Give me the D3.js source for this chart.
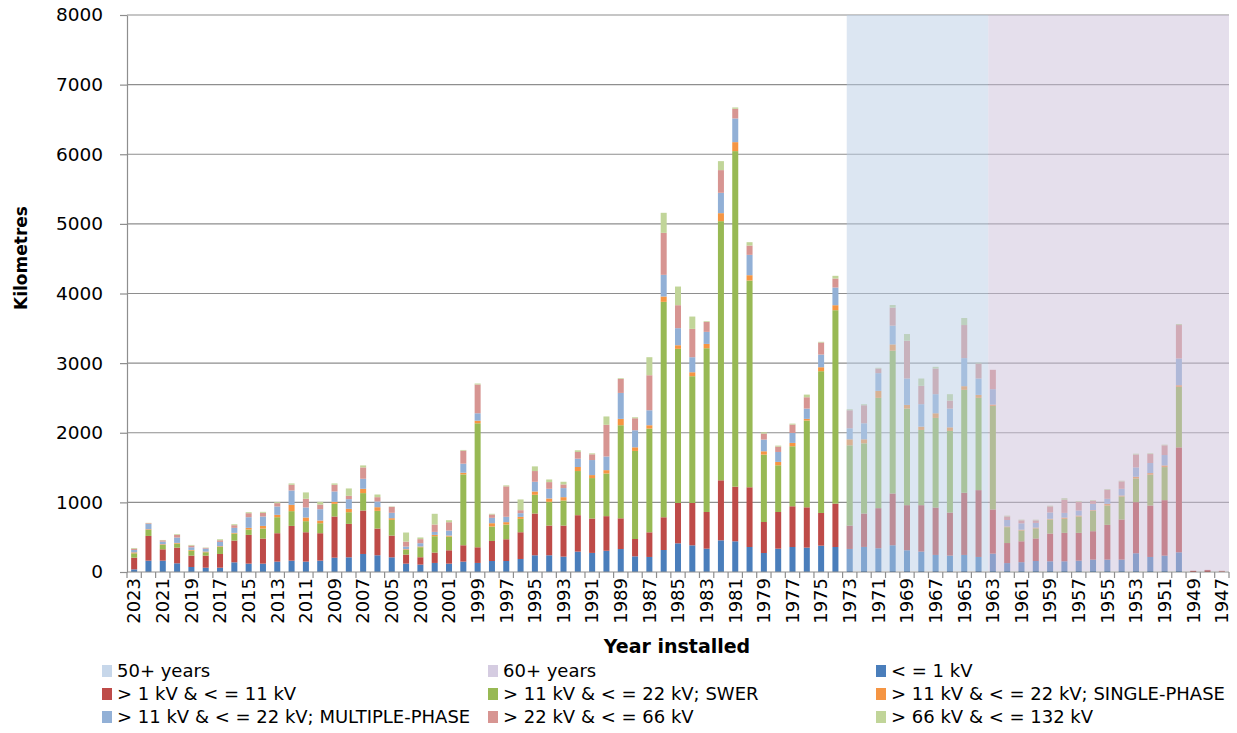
<!DOCTYPE html>
<html>
<head>
<meta charset="utf-8">
<script src="https://cdn.jsdelivr.net/npm/d3@7"></script>
<style>
	body { margin: 0; background: #fff; }
	svg { display: block; }
	text { font-family: "DejaVu Sans", Verdana, sans-serif; fill: #000; }
</style>
</head>
<body>
<div id="chart"></div>
<script>
// years run newest -> oldest, like the source chart
const years = d3.range(2023, 1946, -1);

// kilometres per year, one array per voltage class (same order as years)
const lv1 = [38,163,163,125,72,62,62,139,120,120,149,163,149,163,206,211,259,240,211,120,106,130,120,149,130,158,158,187,240,240,221,293,274,305,330,225,216,316,412,383,335,455,441,359,273,335,359,350,378,359,331,360,341,384,312,293,245,235,245,216,264,128,141,158,154,154,163,178,178,178,269,216,235,283,0,0,0];
const kv11 = [168,355,163,225,163,173,197,312,413,360,408,499,422,394,591,480,624,384,312,130,106,149,192,235,225,288,312,384,600,427,446,523,494,497,441,249,354,470,580,609,527,862,785,858,445,527,585,579,470,623,336,480,576,744,648,667,681,619,893,960,634,288,300,324,398,408,399,408,499,576,734,739,797,1507,15,30,10];
const swer = [62,86,62,58,72,48,101,101,77,144,230,212,159,144,182,168,250,254,226,67,144,235,197,1018,1781,207,212,192,269,341,360,634,581,613,1337,1265,1490,3094,2213,1820,2352,3722,4819,2969,968,671,862,1246,2036,2778,1152,1008,1584,2050,1387,1080,1287,1172,1478,1325,1488,228,155,144,202,201,235,292,278,331,341,442,475,869,0,0,0];
const single = [14,10,10,10,10,10,10,10,24,38,34,91,53,38,29,48,62,53,24,10,10,19,14,24,38,48,34,29,48,48,48,58,43,48,91,52,48,77,52,57,62,115,129,77,48,48,48,24,57,72,87,58,101,91,53,48,67,52,53,43,19,10,12,12,10,19,14,10,24,14,24,24,24,24,0,0,0];
const multi = [34,77,38,77,38,43,62,72,153,135,120,206,144,163,149,139,144,82,77,38,48,43,72,130,106,77,77,53,139,139,130,120,216,196,373,245,215,311,245,216,173,292,340,292,168,143,143,148,182,254,158,230,254,269,379,322,274,269,403,235,221,93,91,67,91,67,72,91,72,96,134,144,149,384,0,0,0];
const kv66 = [19,10,19,38,24,10,24,38,58,53,48,82,125,67,96,48,163,62,86,72,58,106,120,187,413,48,437,43,154,96,53,96,82,455,201,172,503,603,330,407,143,326,139,134,86,77,120,163,173,129,259,259,67,259,543,264,369,115,475,216,278,50,43,36,87,187,125,43,130,106,183,129,139,480,5,0,8];
const kv132 = [10,5,5,10,10,5,14,14,14,14,14,19,91,38,19,106,29,38,5,130,24,154,29,10,14,10,14,154,67,38,38,24,14,120,10,14,259,288,268,177,10,129,19,48,19,14,14,38,10,39,14,14,10,38,96,105,24,92,101,10,0,12,10,10,10,24,10,10,10,10,14,10,10,14,0,0,0];

const seriesNames = [
	'< = 1 kV',
	'> 1 kV & < = 11 kV',
	'> 11 kV & < = 22 kV; SWER',
	'> 11 kV & < = 22 kV; SINGLE-PHASE',
	'> 11 kV & < = 22 kV; MULTIPLE-PHASE',
	'> 22 kV & < = 66 kV',
	'> 66 kV & < = 132 kV'
];
const seriesColors = ['#4a7ebb', '#be4b48', '#98b954', '#f59543', '#92b0d6', '#d79592', '#c1d599'];

// age bands shown as shaded areas
const bandNames = ['50+ years', '60+ years'];
const bandStart = [1973, 1963];
const bandColors = ['#b9cde5', '#cbbfda'];

const yTicks = [0, 1000, 2000, 3000, 4000, 5000, 6000, 7000, 8000];

const width = 1237;
const height = 733;
const margin = { left: 127, right: 8, top: 15, bottom: 161 };

const svg = d3.select('#chart')
	.append('svg')
	.attr('width', width)
	.attr('height', height);

const x = d3.scaleBand()
	.domain(years)
	.range([margin.left, width - margin.right])
	.paddingInner(0.58)
	.paddingOuter(0.29);

const y = d3.scaleLinear()
	.domain([0, 8000])
	.range([height - margin.bottom, margin.top]);

const table = years.map((yr, i) => {
	const row = { year: yr };
	[lv1, kv11, swer, single, multi, kv66, kv132].forEach((s, k) => {
		row[seriesNames[k]] = s[i];
	});
	return row;
});

const stack = d3.stack().keys(seriesNames)(table);

// gridlines
svg.append('g')
	.selectAll('line')
	.data(yTicks.slice(1))
	.join('line')
	.attr('x1', margin.left)
	.attr('x2', width - margin.right)
	.attr('y1', (d) => y(d))
	.attr('y2', (d) => y(d))
	.attr('stroke', '#8e8e8e')
	.attr('stroke-width', 1.2);

// bars
svg.append('g')
	.selectAll('g')
	.data(stack)
	.join('g')
	.attr('fill', (d, i) => seriesColors[i])
	.selectAll('rect')
	.data((d) => d)
	.join('rect')
	.attr('x', (d) => x(d.data.year))
	.attr('width', x.bandwidth())
	.attr('y', (d) => y(d[1]))
	.attr('height', (d) => Math.max(0, y(d[0]) - y(d[1])));

// shaded age bands drawn over the bars
const bandEdges = [x(bandStart[0]), x(bandStart[1]) - 1.5, width - margin.right];
svg.append('g')
	.selectAll('rect')
	.data(bandNames)
	.join('rect')
	.attr('x', (d, i) => bandEdges[i])
	.attr('width', (d, i) => bandEdges[i + 1] - bandEdges[i])
	.attr('y', y(8000))
	.attr('height', y(0) - y(8000) - 1)
	.attr('fill', (d, i) => bandColors[i])
	.attr('opacity', 0.5);

// y axis
const yAxis = svg.append('g')
	.attr('transform', `translate(${margin.left},0)`)
	.call(d3.axisLeft(y)
		.tickValues(yTicks)
		.tickFormat(d3.format('d'))
		.tickSize(7)
		.tickPadding(17)
		.tickSizeOuter(0));
yAxis.select('.domain').attr('stroke', '#8e8e8e').attr('stroke-width', 1.2);
yAxis.selectAll('.tick line').attr('stroke', '#8e8e8e').attr('stroke-width', 1.2);
yAxis.selectAll('.tick text')
	.style('font-size', '18.5px')
	.style('font-family', '"DejaVu Sans", sans-serif')
	.attr('fill', '#000');

// x axis: ticks sit between categories
const xAxisG = svg.append('g')
	.attr('transform', `translate(0,${y(0)})`);
xAxisG.append('line')
	.attr('x1', margin.left)
	.attr('x2', width - margin.right)
	.attr('stroke', '#8e8e8e')
	.attr('stroke-width', 1.2);
xAxisG.selectAll('line.tick')
	.data(years.concat([null]))
	.join('line')
	.attr('class', 'tick')
	.attr('x1', (d, i) => margin.left + i * x.step())
	.attr('x2', (d, i) => margin.left + i * x.step())
	.attr('y1', 0)
	.attr('y2', 6)
	.attr('stroke', '#8e8e8e')
	.attr('stroke-width', 1.2);
xAxisG.selectAll('text')
	.data(years.filter((d, i) => i % 2 === 0))
	.join('text')
	.attr('transform', (d) => `translate(${x(d) + x.bandwidth() / 2},6) rotate(-90)`)
	.attr('text-anchor', 'end')
	.attr('dy', '0.35em')
	.style('font-size', '18px')
	.text((d) => d);

// axis titles
svg.append('text')
	.attr('transform', 'translate(27,258) rotate(-90)')
	.attr('text-anchor', 'middle')
	.style('font-size', '17px')
	.style('font-weight', 'bold')
	.text('Kilometres');

svg.append('text')
	.attr('x', 677)
	.attr('y', 653)
	.attr('text-anchor', 'middle')
	.style('font-size', '19px')
	.style('font-weight', 'bold')
	.text('Year installed');

// legend, three columns
const legendItems = bandNames.map((n, i) => ({ name: n, color: bandColors[i], opacity: 0.8 }))
	.concat(seriesNames.map((n, i) => ({ name: n, color: seriesColors[i], opacity: 1 })));
const colX = [102, 488, 876];
const rowY = [671, 694, 717];

const legend = svg.append('g')
	.selectAll('g')
	.data(legendItems)
	.join('g')
	.attr('transform', (d, i) => `translate(${colX[i % 3]},${rowY[Math.floor(i / 3)]})`);

legend.append('rect')
	.attr('x', 0)
	.attr('y', -6)
	.attr('width', 10)
	.attr('height', 12)
	.attr('fill', (d) => d.color)
	.attr('opacity', (d) => d.opacity);

legend.append('text')
	.attr('x', 15)
	.attr('dy', '0.35em')
	.style('font-size', '18px')
	.text((d) => d.name);
</script>
</body>
</html>
